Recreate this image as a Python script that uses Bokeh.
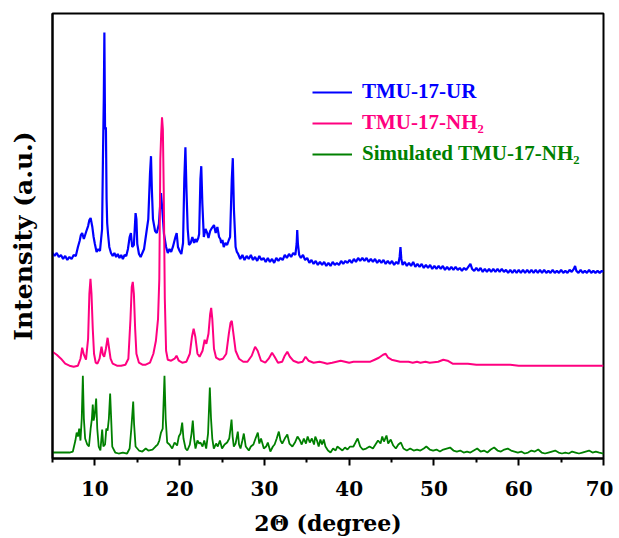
from bokeh.plotting import figure
from bokeh.models import Range1d, FixedTicker, Legend, LegendItem
from bokeh.embed import file_html
from bokeh.resources import INLINE

# ---- data (2-theta in degrees, intensity in offset a.u.) ----
blue_points = [
    (5.0, 206), (5.25, 203), (5.5, 206), (5.75, 202), (6.0, 204), (6.25, 200), (6.5, 203), (6.75, 199),
    (7.0, 202), (7.25, 200), (7.5, 204), (7.75, 203), (8.0, 212), (8.2, 218), (8.35, 224), (8.5, 226),
    (8.7, 220), (9.0, 228), (9.2, 233), (9.35, 239), (9.5, 241), (9.7, 232), (9.85, 222), (10.0, 215),
    (10.2, 207), (10.4, 210), (10.6, 208), (10.85, 230), (10.95, 300), (11.05, 360), (11.12, 427),
    (11.2, 330), (11.3, 332), (11.38, 260), (11.45, 236), (11.55, 225), (11.7, 212), (11.9, 206),
    (12.1, 203), (12.3, 206), (12.5, 202), (12.7, 205), (12.9, 201), (13.1, 204), (13.3, 200),
    (13.5, 204), (13.7, 203), (13.9, 210), (14.1, 222), (14.25, 226), (14.4, 212), (14.6, 214),
    (14.8, 246), (14.9, 240), (15.0, 215), (15.2, 205), (15.4, 202), (15.6, 206), (15.8, 210),
    (16.1, 228), (16.3, 240), (16.5, 285), (16.62, 303), (16.72, 270), (16.85, 240), (17.1, 228),
    (17.3, 226), (17.55, 235), (17.8, 266), (17.95, 250), (18.15, 225), (18.4, 212), (18.6, 206),
    (18.8, 210), (19.0, 207), (19.2, 212), (19.5, 222), (19.65, 226), (19.8, 212), (20.0, 208),
    (20.2, 205), (20.4, 216), (20.55, 280), (20.68, 312), (20.8, 270), (20.95, 230), (21.1, 214),
    (21.3, 216), (21.5, 222), (21.7, 216), (21.85, 220), (22.0, 217), (22.2, 221), (22.3, 225),
    (22.45, 280), (22.55, 293), (22.68, 255), (22.85, 222), (23.05, 230), (23.25, 226), (23.4, 221),
    (23.6, 228), (23.8, 231), (24.05, 234), (24.25, 226), (24.45, 232), (24.65, 222), (24.8, 220),
    (24.9, 216), (25.05, 219), (25.2, 212), (25.4, 216), (25.6, 214), (25.8, 219), (25.95, 222),
    (26.15, 280), (26.27, 301), (26.4, 250), (26.6, 212), (26.75, 207),
    (26.9, 205), (27.15, 200), (27.4, 204), (27.65, 199), (27.9, 203), (28.15, 200), (28.4, 204),
    (28.65, 199), (28.9, 202), (29.15, 198), (29.4, 203), (29.65, 199), (29.9, 201), (30.15, 197),
    (30.4, 201), (30.65, 197), (30.9, 200), (31.15, 196), (31.4, 201), (31.65, 198), (31.9, 201),
    (32.15, 199), (32.4, 204), (32.65, 201), (32.9, 205), (33.15, 202), (33.4, 206), (33.65, 204),
    (33.8, 215), (33.87, 229), (33.95, 215), (34.1, 204), (34.3, 201), (34.55, 204), (34.8, 199),
    (35.05, 201), (35.3, 196), (35.55, 199), (35.8, 195), (36.05, 198), (36.3, 194), (36.55, 197),
    (36.8, 194), (37.05, 197), (37.3, 193), (37.55, 196), (37.8, 193), (38.05, 197), (38.3, 194),
    (38.55, 196), (38.8, 194), (39.05, 198), (39.3, 195), (39.55, 198), (39.8, 196), (40.05, 199),
    (40.3, 196), (40.55, 200), (40.8, 197), (41.05, 201), (41.3, 198), (41.55, 201), (41.8, 198),
    (42.05, 201), (42.3, 197), (42.55, 200), (42.8, 197), (43.05, 200), (43.3, 196), (43.55, 199),
    (43.8, 196), (44.05, 199), (44.3, 195), (44.55, 198), (44.8, 195), (45.05, 198), (45.3, 194),
    (45.55, 197), (45.8, 195), (45.95, 202), (46.05, 212), (46.15, 200), (46.3, 194), (46.55, 197),
    (46.8, 193), (47.05, 196), (47.3, 193), (47.55, 197), (47.8, 192), (48.05, 195), (48.3, 192),
    (48.55, 195), (48.8, 191), (49.05, 194), (49.3, 191), (49.55, 194), (49.8, 190), (50.05, 193),
    (50.3, 190), (50.55, 193), (50.8, 190), (51.05, 193), (51.3, 189), (51.55, 192), (51.8, 189),
    (52.05, 192), (52.3, 189), (52.55, 192), (52.8, 189), (53.05, 191), (53.3, 188), (53.55, 191),
    (53.8, 189), (54.05, 192), (54.3, 195), (54.5, 190), (54.75, 188), (55.0, 191), (55.25, 188),
    (55.5, 191), (55.75, 187), (56.0, 190), (56.25, 187), (56.5, 190), (56.75, 187), (57.0, 190),
    (57.25, 187), (57.5, 190), (57.75, 187), (58.0, 190), (58.25, 187), (58.5, 189), (58.75, 186),
    (59.0, 189), (59.25, 186), (59.5, 189), (59.75, 186), (60.0, 189), (60.25, 186), (60.5, 189),
    (60.75, 186), (61.0, 189), (61.25, 186), (61.5, 189), (61.75, 186), (62.0, 189), (62.25, 186),
    (62.5, 189), (62.75, 186), (63.0, 189), (63.25, 186), (63.5, 188), (63.75, 186), (64.0, 189),
    (64.25, 186), (64.5, 188), (64.75, 186), (65.0, 189), (65.25, 186), (65.5, 188), (65.75, 186),
    (66.0, 189), (66.25, 187), (66.5, 190), (66.65, 193), (66.8, 188), (67.05, 186), (67.3, 189),
    (67.55, 186), (67.8, 188), (68.05, 186), (68.3, 189), (68.55, 186), (68.8, 188), (69.05, 186),
    (69.3, 188), (69.55, 186), (69.8, 188), (70.0, 187),
]
blue_x = [pt[0] for pt in blue_points]
blue_y = [pt[1] for pt in blue_points]

pink_x = [5.0, 5.5, 6.0, 6.5, 7.0, 7.5, 8.0, 8.3, 8.5, 8.7, 8.95, 9.2, 9.35, 9.48, 9.6, 9.75, 9.9, 10.1,
          10.3, 10.55, 10.78, 10.95, 11.1, 11.3, 11.5, 11.65, 11.85, 12.1, 12.6, 13.1, 13.6, 13.95, 14.2,
          14.35, 14.47, 14.6, 14.75, 14.9, 15.2, 15.6, 16.0, 16.5, 16.9, 17.2, 17.45, 17.6, 17.72, 17.82,
          17.92, 18.02, 18.12, 18.25, 18.4, 18.6, 19.0, 19.4, 19.63, 19.9, 20.3, 20.8, 21.2, 21.45, 21.65,
          21.85, 22.1, 22.35, 22.7, 22.95, 23.15, 23.4, 23.6, 23.72, 23.85, 24.05, 24.3, 24.7, 25.1, 25.5,
          25.8, 26.0, 26.15, 26.3, 26.6, 27.0, 27.5, 28.0, 28.5, 28.9, 29.2, 29.6, 30.1, 30.5, 30.9, 31.2,
          31.6, 32.1, 32.4, 32.7, 33.0, 33.4, 34.0, 34.5, 34.85, 35.2, 35.8, 36.5, 37.0, 37.4, 38.0, 38.5,
          39.0, 39.5, 40.0, 40.5, 41.0, 41.7, 42.5, 43.0, 43.5, 44.0, 44.3, 44.6, 45.0, 45.5, 46.0, 47.0,
          47.5, 48.0, 48.4, 49.0, 49.5, 50.5, 51.1, 51.6, 52.2, 53.0, 54.0, 55.0, 56.0, 57.0, 58.0, 59.0,
          60.0, 61.0, 62.0, 63.0, 64.0, 65.0, 66.0, 67.0, 68.0, 69.0, 70.0]
pink_y = [107, 104, 100, 95, 93, 92, 93, 100, 111, 104, 99, 120, 165, 180, 165, 130, 105, 96,
          95, 100, 112, 104, 102, 110, 121, 112, 100, 95, 93, 93, 94, 100, 140,
          172, 177, 165, 130, 105, 96, 94, 94, 96, 105, 118, 140, 180, 300, 325,
          342, 330, 270, 160, 108, 99, 98, 100, 103, 98, 96, 97, 105, 122, 130,
          122, 105, 102, 108, 119, 115, 125, 145, 151, 140, 110, 101, 99, 100, 105,
          125, 136, 138, 128, 108, 100, 97, 97, 103, 112, 108, 98, 96, 100, 106, 102,
          96, 97, 103, 107, 102, 98, 96, 97, 102, 98, 96, 97, 96, 95, 96, 97,
          98, 97, 96, 97, 97, 97, 97, 99, 101, 104, 105, 101, 99, 98, 97, 97,
          96, 97, 96, 97, 96, 97, 99, 98, 95, 95, 95, 94, 94, 94, 94, 94,
          93, 93, 93, 93, 93, 93, 93, 93, 93, 93, 93]

green_x = [5.0, 6.0, 7.0, 7.4, 7.7, 7.85, 8.0, 8.15, 8.3, 8.45, 8.58, 8.7, 8.85, 9.1, 9.3, 9.5, 9.65, 9.75,
           9.85, 9.95, 10.05, 10.15, 10.28, 10.45, 10.65, 10.86, 11.0, 11.2, 11.35, 11.5, 11.65, 11.8, 11.92,
           12.05, 12.4, 12.8, 13.3, 13.8, 14.1, 14.3, 14.52, 14.62, 14.8, 15.2, 15.6, 16.0, 16.3, 16.8, 17.15,
           17.4, 17.6, 17.8, 18.0, 18.21, 18.35, 18.53, 18.8, 19.12, 19.4, 19.7, 19.9, 20.1, 20.3, 20.45,
           20.7, 20.9, 21.2, 21.4, 21.55, 21.7, 21.87, 22.1, 22.3, 22.46, 22.7, 22.9, 23.13, 23.35, 23.56,
           23.7, 23.85, 24.03, 24.3, 24.5, 24.75, 25.0, 25.3, 25.6, 25.85, 26.0, 26.12, 26.25, 26.39, 26.6,
           26.86, 27.0, 27.18, 27.4, 27.57, 27.8, 28.16, 28.4, 28.7, 28.95, 29.22, 29.4, 29.6, 29.93, 30.2,
           30.4, 30.7, 31.0, 31.2, 31.45, 31.7, 31.9, 32.1, 32.4, 32.7, 32.95, 33.3, 33.6, 33.9, 34.2, 34.4,
           34.65, 34.9, 35.1, 35.35, 35.6, 35.85, 36.0, 36.2, 36.4, 36.6, 36.8, 37.0, 37.2, 37.5, 37.8, 38.1,
           38.4, 38.6, 38.9, 39.2, 39.5, 39.8, 40.1, 40.5, 40.8, 41.0, 41.3, 41.6, 42.0, 42.4, 42.8, 43.1,
           43.4, 43.7, 43.9, 44.1, 44.4, 44.6, 44.9, 45.2, 45.5, 45.8, 46.1, 46.4, 46.8, 47.2, 47.6, 48.0,
           48.4, 48.8, 49.1, 49.5, 49.9, 50.3, 50.7, 51.1, 51.5, 51.9, 52.3, 52.7, 53.1, 53.5, 53.9, 54.3,
           54.7, 55.1, 55.5, 55.9, 56.3, 56.7, 57.1, 57.5, 57.9, 58.3, 58.7, 59.1, 59.5, 59.9, 60.3, 60.7,
           61.1, 61.5, 61.9, 62.3, 62.7, 63.1, 63.5, 63.9, 64.3, 64.7, 65.1, 65.5, 65.9, 66.3, 66.7, 67.1,
           67.5, 67.9, 68.3, 68.7, 69.1, 69.5, 70.0]
green_y = [6, 6, 6, 7, 18, 26, 22, 30, 18, 40, 83, 40, 20, 14, 12, 30, 40, 54,
           38, 42, 50, 60, 30, 12, 8, 29, 12, 14, 30, 28, 40, 65, 40,
           12, 6, 5, 6, 5, 10, 30, 57, 35, 12, 8, 7, 10, 8, 9, 12,
           14, 18, 26, 30, 83, 40, 16, 14, 10, 16, 13, 22, 25, 36, 20,
           10, 8, 14, 25, 38, 20, 10, 18, 15, 16, 12, 18, 10, 25, 71,
           40, 20, 10, 15, 12, 18, 10, 14, 16, 20, 30, 39, 22, 12, 15,
           27, 14, 10, 18, 25, 12, 8, 12, 14, 20, 26, 15, 20, 10, 12,
           16, 7, 12, 14, 20, 27, 18, 15, 20, 24, 15, 12, 16, 22, 18, 14,
           20, 15, 22, 16, 20, 14, 22, 18, 12, 19, 14, 19, 12, 8, 6, 10,
           8, 12, 10, 8, 11, 9, 12, 12, 17, 20, 12, 9, 10, 12, 10, 14,
           18, 15, 22, 17, 23, 15, 19, 13, 10, 14, 16, 10, 8, 10, 8, 9,
           8, 10, 12, 9, 8, 9, 7, 9, 10, 11, 8, 7, 8, 6, 7, 6,
           8, 10, 7, 8, 6, 9, 11, 8, 7, 9, 10, 8, 7, 6, 7, 5,
           6, 8, 7, 9, 6, 5, 6, 7, 8, 6, 5, 6, 5, 7, 6, 5,
           6, 7, 8, 6, 7, 6, 5]

series_names = ["TMU-17-UR", "TMU-17-NH\u2082", "Simulated TMU-17-NH\u2082"]
series_colors = ["#0000FF", "#FF0080", "#008000"]
x_major_ticks = [10, 20, 30, 40, 50, 60, 70]
x_minor_ticks = [5, 15, 25, 35, 45, 55, 65]

p = figure(width=613, height=538, output_backend="svg", toolbar_location=None,
           x_range=Range1d(5, 70), y_range=Range1d(0, 446),
           min_border_left=52, min_border_top=13, min_border_right=10, min_border_bottom=79)

p.grid.visible = False
p.outline_line_color = "black"
p.outline_line_width = 2
p.background_fill_color = "white"
p.border_fill_color = "white"

r_blue = p.line(blue_x, blue_y, line_color=series_colors[0], line_width=2.2)
r_pink = p.line(pink_x, pink_y, line_color=series_colors[1], line_width=2)
r_green = p.line(green_x, green_y, line_color=series_colors[2], line_width=1.8)

# x axis
xa = p.xaxis[0]
xa.ticker = FixedTicker(ticks=x_major_ticks, minor_ticks=x_minor_ticks)
xa.axis_line_width = 2
xa.major_tick_line_width = 2
xa.minor_tick_line_width = 2
xa.major_tick_out = 7
xa.major_tick_in = 0
xa.minor_tick_out = 4
xa.minor_tick_in = 0
xa.major_label_text_font = "DejaVu Serif"
xa.major_label_text_font_style = "bold"
xa.major_label_text_font_size = "20px"
xa.major_label_text_color = "black"
xa.major_label_standoff = 15
xa.axis_label = "2\u0398 (degree)"
xa.axis_label_text_font = "DejaVu Serif"
xa.axis_label_text_font_style = "bold"
xa.axis_label_text_font_size = "22px"
xa.axis_label_text_color = "black"
xa.axis_label_standoff = 11

# y axis (no ticks)
ya = p.yaxis[0]
ya.ticker = FixedTicker(ticks=[])
ya.axis_line_width = 2
ya.major_tick_line_color = None
ya.minor_tick_line_color = None
ya.major_label_text_font_size = "0px"
ya.axis_label = "Intensity (a.u.)"
ya.axis_label_text_font = "DejaVu Serif"
ya.axis_label_text_font_style = "bold"
ya.axis_label_text_font_size = "25px"
ya.axis_label_text_color = "black"
ya.axis_label_standoff = 15

renderers = [r_blue, r_pink, r_green]
legend_bottoms = [354, 323, 292]
for name, color, rend, yb in zip(series_names, series_colors, renderers, legend_bottoms):
    lg = Legend(items=[LegendItem(label=name, renderers=[rend])], location=(260, yb),
                orientation="vertical", padding=0, margin=0, spacing=0,
                glyph_width=40, glyph_height=20, label_standoff=10,
                label_text_font="Liberation Serif", label_text_font_style="bold",
                label_text_font_size="21px", label_text_color=color,
                background_fill_alpha=0, border_line_alpha=0)
    p.add_layout(lg)

open("out.html", "w").write(file_html(p, INLINE))
